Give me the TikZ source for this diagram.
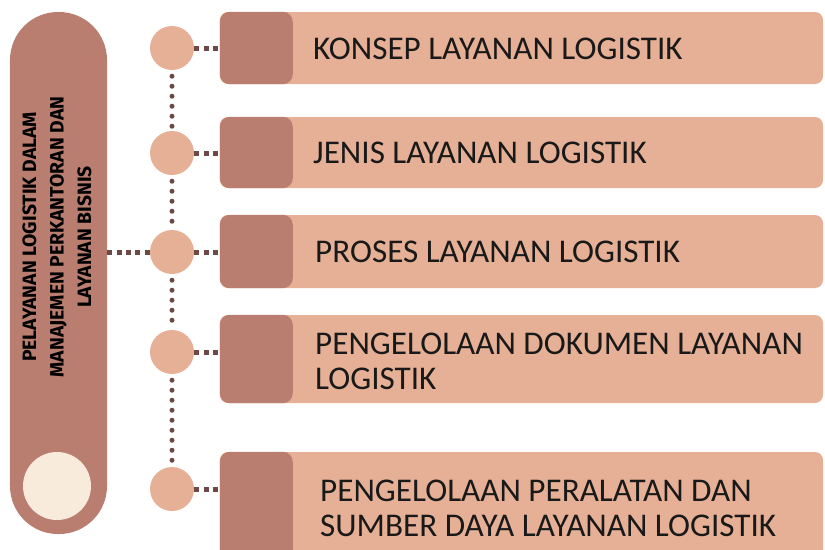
\documentclass[tikz,border=0pt]{standalone}
\usepackage{fontspec}
\setmainfont{Carlito}
\newfontfamily\judulfont{Fira Sans}
\usepackage{tikz}
\usetikzlibrary{positioning, calc}

\definecolor{coklattua}{HTML}{B97E70}
\definecolor{salem}{HTML}{E6B096}
\definecolor{krem}{HTML}{F8EBDB}
\definecolor{titik}{HTML}{6B4A46}

\tikzset{
  pil/.style={rectangle, rounded corners=1.44cm, minimum width=2.91cm, minimum height=15.66cm, fill=coklattua, inner sep=0pt},
  bulat/.style={circle, fill=salem, minimum size=1.32cm, inner sep=0pt},
  kotak/.style={rectangle, rounded corners=0.24cm, fill=salem, minimum width=18.09cm, inner sep=0pt},
  tab/.style={fill=coklattua, rounded corners=0.3cm},
  garisH/.style={titik, line width=0.15cm, dash pattern=on 0.15cm off 0.13cm},
  garisV/.style={titik, line width=0.15cm, line cap=round, dash pattern=on 0pt off 0.3cm, shorten <=0.18cm, shorten >=0.12cm},
  teks/.style={font=\fontsize{28.3}{30}\selectfont, align=left, anchor=west, text=black!90, inner sep=0pt}
}

\begin{document}
\begin{tikzpicture}[x=0.03cm, y=-0.03cm]
    \useasboundingbox (0,0) rectangle (825,549);

    % ==========================================
    % 1. Pil kiri dengan judul
    % ==========================================
    \node[pil] (pil) at (58.5, 273) {};
    \node[circle, fill=krem, minimum size=2.04cm, inner sep=0pt] (krem) at (57, 486) {};
    \node[rotate=90, align=center, inner sep=0pt,
          font=\judulfont\bfseries\fontsize{16.5}{23.5}\selectfont] (judul) at (57, 237)
          {PELAYANAN LOGISTIK DALAM\\MANAJEMEN PERKANTORAN DAN\\LAYANAN BISNIS};

    % ==========================================
    % 2. Kotak materi (latar, tab gelap, teks)
    % ==========================================
    \node[kotak, minimum height=2.16cm] (b1) at (521.5, 48) {};
    \node[kotak, minimum height=2.13cm] (b2) at (521.5, 152.5) {};
    \node[kotak, minimum height=2.19cm] (b3) at (521.5, 251.5) {};
    \node[kotak, minimum height=2.64cm] (b4) at (521.5, 359) {};
    \node[kotak, minimum height=3.54cm] (b5) at (521.5, 511) {};

    % tab gelap di sisi kiri tiap kotak
    \foreach \k in {1,...,5} {
        \fill[tab] (b\k.north west) rectangle ($(b\k.south west)+(73,0)$);
    }

    \node[teks] (t1) at (313, 48.5) {KONSEP LAYANAN LOGISTIK};
    \node[teks] (t2) at (313, 153) {JENIS LAYANAN LOGISTIK};
    \node[teks] (t3) at (315, 252) {PROSES LAYANAN LOGISTIK};
    \node[teks] (t4) at (315, 361) {PENGELOLAAN DOKUMEN LAYANAN\\LOGISTIK};
    \node[teks] (t5) at (320, 508) {PENGELOLAAN PERALATAN DAN\\SUMBER DAYA LAYANAN LOGISTIK};

    % ==========================================
    % 3. Titik bulat dan garis putus-putus
    % ==========================================
    \node[bulat] (c1) at (172, 48) {};
    \node[bulat] (c2) at (172, 153) {};
    \node[bulat] (c3) at (172, 252) {};
    \node[bulat] (c4) at (172, 352) {};
    \node[bulat] (c5) at (172, 489) {};

    % garis tegak antar titik
    \draw[garisV] (c1.south) -- (c2.north);
    \draw[garisV] (c2.south) -- (c3.north);
    \draw[garisV] (c3.south) -- (c4.north);
    \draw[garisV] (c4.south) -- (c5.north);

    % garis mendatar ke kotak
    \foreach \k in {1,...,5} {
        \draw[garisH] (c\k.east) -- (c\k.east -| b\k.west);
    }
    \draw[garisH] (pil.east |- c3.west) -- (c3.west);

\end{tikzpicture}
\end{document}
